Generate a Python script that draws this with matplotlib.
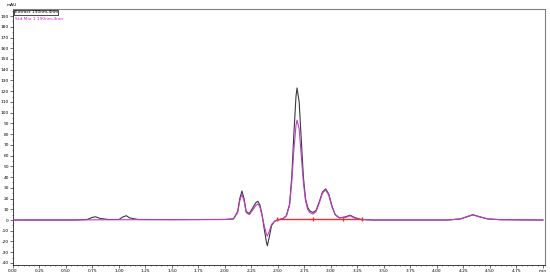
import numpy as np
import matplotlib.pyplot as plt
from matplotlib.ticker import MultipleLocator, FuncFormatter

# Chromatogram traces (time in min, signal in mAU)
t_extract = [0.00, 0.60, 0.70, 0.75, 0.78, 0.82, 0.90, 1.00, 1.04, 1.07, 1.10, 1.18,
             1.50, 2.00, 2.08, 2.12, 2.14, 2.16, 2.18, 2.20, 2.23, 2.26, 2.29, 2.31,
             2.33, 2.35, 2.37, 2.39, 2.40, 2.42, 2.44, 2.47, 2.50, 2.55, 2.58, 2.61,
             2.63, 2.65, 2.67, 2.68, 2.70, 2.72, 2.74, 2.76, 2.78, 2.80, 2.83, 2.86,
             2.89, 2.92, 2.95, 2.98, 3.01, 3.04, 3.08, 3.14, 3.18, 3.22, 3.28, 3.40,
             4.10, 4.22, 4.30, 4.34, 4.40, 4.48, 4.60, 5.00]
y_extract = [0.0, 0.0, 0.5, 2.5, 3.0, 1.5, 0.5, 0.5, 3.0, 4.0, 2.0, 0.5,
             0.3, 0.5, 1.0, 8.0, 20.0, 27.0, 20.0, 8.0, 6.0, 11.0, 16.0, 17.5,
             14.0, 5.0, -8.0, -20.0, -24.0, -15.0, -5.0, -1.0, 0.0, 1.5, 4.0, 15.0,
             40.0, 80.0, 115.0, 123.0, 110.0, 75.0, 40.0, 20.0, 12.0, 8.5, 7.0, 9.0,
             17.0, 26.0, 29.0, 24.0, 13.0, 5.0, 2.0, 3.0, 4.5, 2.5, 0.5, 0.0,
             0.0, 1.0, 3.5, 4.8, 3.0, 1.0, 0.3, 0.0]

t_std = [0.00, 2.00, 2.08, 2.12, 2.14, 2.16, 2.18, 2.20, 2.23, 2.26, 2.29, 2.31,
         2.33, 2.35, 2.37, 2.39, 2.40, 2.42, 2.44, 2.47, 2.50, 2.55, 2.58, 2.61,
         2.63, 2.65, 2.67, 2.68, 2.70, 2.72, 2.74, 2.76, 2.78, 2.80, 2.83, 2.86,
         2.89, 2.92, 2.95, 2.98, 3.01, 3.04, 3.08, 3.14, 3.18, 3.22, 3.28, 3.40,
         4.10, 4.22, 4.30, 4.34, 4.40, 4.48, 4.60, 5.00]
y_std = [0.0, 0.5, 1.0, 7.0, 18.0, 24.0, 18.0, 7.0, 5.0, 9.0, 13.5, 15.0,
         12.0, 4.0, -5.0, -13.0, -15.0, -10.0, -4.0, -1.0, 0.0, 1.5, 4.0, 14.0,
         35.0, 65.0, 88.0, 93.0, 85.0, 60.0, 35.0, 18.0, 10.0, 7.0, 5.5, 8.0,
         16.0, 25.0, 28.0, 23.0, 12.0, 5.0, 2.0, 2.5, 4.0, 2.0, 0.5, 0.0,
         0.0, 1.0, 3.8, 5.0, 3.2, 1.0, 0.3, 0.0]

# integration baseline and peak markers
t_base = [2.49, 2.83, 3.11, 3.29]
y_base = [1.0, 1.0, 1.0, 1.0]

x_ticks = np.arange(0, 5.01, 0.25)
y_ticks = np.arange(-40, 191, 10)

fig = plt.figure(figsize=(5.5, 2.75), dpi=100)
ax = fig.add_axes([0.0236, 0.036, 0.9674, 0.931])

ax.plot(t_extract, y_extract, color='#3a3a3a', lw=0.8, zorder=3)
ax.plot(t_std, y_std, color='#c03cc8', lw=0.8, zorder=4)
ax.plot(t_base, y_base, color='#e83030', lw=1.0, zorder=6,
        marker='|', markersize=3.5, markeredgewidth=1.0, markeredgecolor='#e83030')

ax.set_xlim(0, 5.02)
ax.set_ylim(-42, 196.5)

ax.xaxis.set_major_locator(plt.FixedLocator(x_ticks))
ax.xaxis.set_minor_locator(MultipleLocator(0.05))
ax.yaxis.set_major_locator(plt.FixedLocator(y_ticks))
ax.yaxis.set_minor_locator(MultipleLocator(5))
ax.xaxis.set_major_formatter(FuncFormatter(lambda v, p: 'min' if v >= 4.99 else f'{v:.2f}'))
ax.yaxis.set_major_formatter(FuncFormatter(lambda v, p: f'{v:.0f}'))
ax.tick_params(which='major', length=2, width=0.5, labelsize=3.2, pad=1, color='#333333')
ax.tick_params(which='minor', length=1, width=0.4, color='#333333')

for side in ['top', 'right']:
    ax.spines[side].set_color('#808080')
    ax.spines[side].set_linewidth(0.8)
for side in ['left', 'bottom']:
    ax.spines[side].set_color('#202020')
    ax.spines[side].set_linewidth(0.6)

fig.text(0.012, 0.975, 'mAU', fontsize=3.2, ha='left', va='bottom')

ax.text(0.003, 0.995, 'Extract 190nm,4nm', transform=ax.transAxes, fontsize=3.2,
        va='top', ha='left', color='black',
        bbox=dict(boxstyle='square,pad=0.15', fc='white', ec='black', lw=0.5))
ax.text(0.003, 0.968, 'Std Mix 1 190nm,4nm', transform=ax.transAxes, fontsize=3.2,
        va='top', ha='left', color='#d020d0')

fig.savefig('out.png', dpi=100)
